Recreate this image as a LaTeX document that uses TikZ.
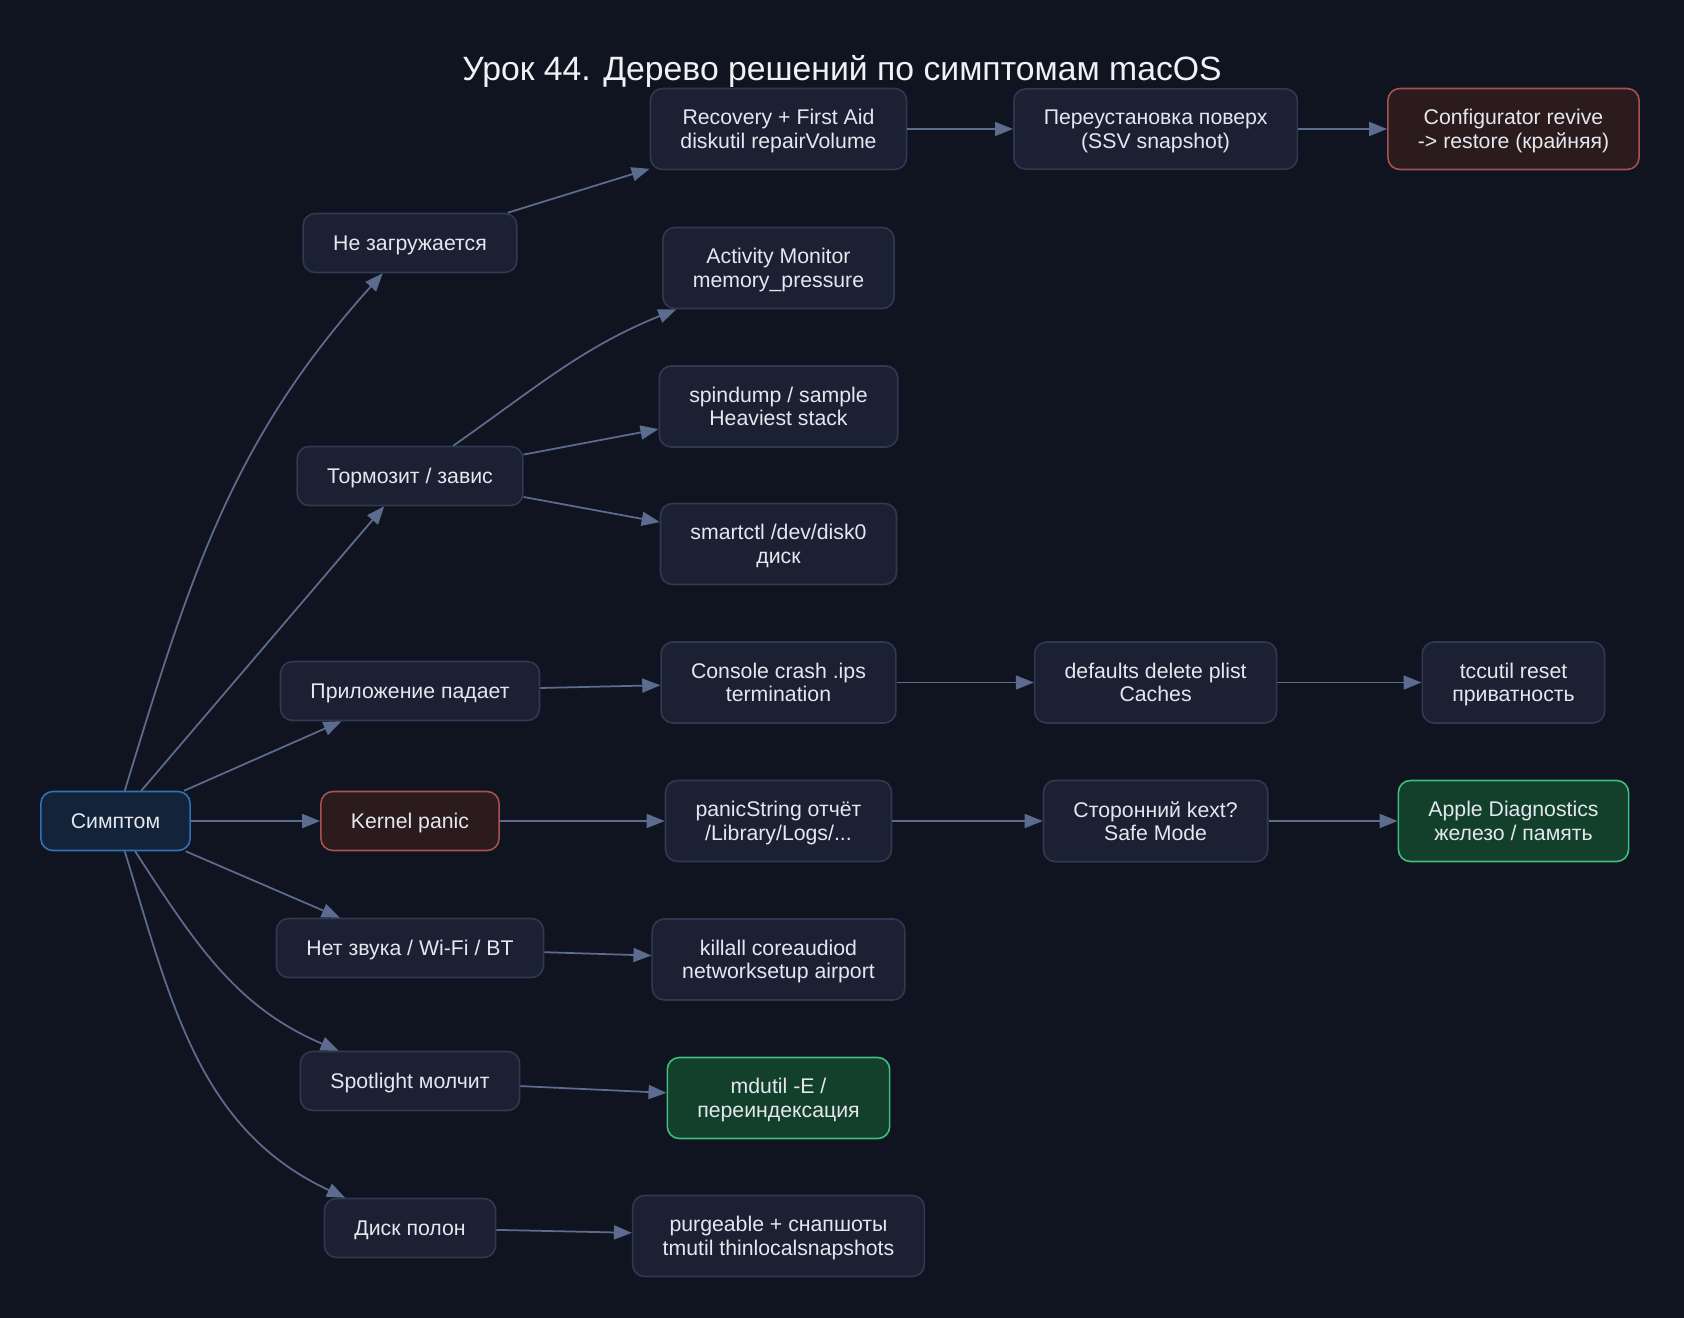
\documentclass[tikz,border=0pt]{standalone}
\usepackage{fontspec}
\setmainfont{Liberation Sans}
\usetikzlibrary{positioning,arrows.meta}

\definecolor{bgdark}{HTML}{0F1420}
\definecolor{boxfill}{HTML}{1B2132}
\definecolor{boxline}{HTML}{2E3A54}
\definecolor{edgecol}{HTML}{5C6C8F}
\definecolor{txtcol}{HTML}{E4E7EF}
\definecolor{rootfill}{HTML}{13243A}
\definecolor{rootline}{HTML}{2F72B5}
\definecolor{warnfill}{HTML}{2B1B1C}
\definecolor{warnline}{HTML}{A8524F}
\definecolor{okfill}{HTML}{13402A}
\definecolor{okline}{HTML}{3DBE7E}

\begin{document}
\begin{tikzpicture}[
  x=0.02cm, y=0.02cm,
  box/.style={draw=boxline, fill=boxfill, line width=0.9pt, rounded corners=0.24cm,
    text=txtcol, align=center, inner xsep=0.6cm, inner ysep=0.421cm,
    text depth=-3.6pt, minimum height=1.18cm, font=\fontsize{12.1}{13.4}\selectfont},
  rootbox/.style={box, draw=rootline, fill=rootfill},
  warnbox/.style={box, draw=warnline, fill=warnfill},
  okbox/.style={box, draw=okline, fill=okfill},
  edge/.style={-{Triangle[length=0.36cm, width=0.28cm]}, edgecol, line width=1pt},
  title/.style={text=txtcol!60!white, font=\fontsize{19.2}{22}\selectfont}
]

  % --- canvas ---
  \fill[bgdark] (0,0) rectangle (1684,-1318);
  \useasboundingbox (0,0) rectangle (1684,-1318);

  \node[title] (ttl) at (842,-71) {Урок 44. Дерево решений по симптомам macOS};

  % --- root and symptoms ---
  \node[rootbox] (root) at (115.5,-821) {Симптом};

  \node[box]     (nz) at (410,-243)  {Не загружается};
  \node[box]     (tz) at (410,-476)  {Тормозит / завис};
  \node[box]     (pp) at (410,-691)  {Приложение падает};
  \node[warnbox] (kp) at (410,-821)  {Kernel panic};
  \node[box]     (nb) at (410,-948)  {Нет звука / Wi-Fi / BT};
  \node[box]     (sp) at (410,-1081) {Spotlight молчит};
  \node[box]     (dp) at (410,-1228) {Диск полон};

  % --- first step ---
  \node[box]   (rec)  at (778.5,-129)   {Recovery + First Aid\\diskutil repairVolume};
  \node[box]   (am)   at (778.5,-268)   {Activity Monitor\\memory\_pressure};
  \node[box]   (spd)  at (778.5,-406.5) {spindump / sample\\Heaviest stack};
  \node[box]   (smc)  at (778.5,-544)   {smartctl /dev/disk0\\диск};
  \node[box]   (cons) at (778.5,-682.5) {Console crash .ips\\termination};
  \node[box]   (pan)  at (778.5,-821)   {panicString отчёт\\/Library/Logs/...};
  \node[box]   (kill) at (778.5,-959.5) {killall coreaudiod\\networksetup airport};
  \node[okbox] (mdu)  at (778.5,-1098)  {mdutil -E /\\переиндексация};
  \node[box]   (purg) at (778.5,-1236)  {purgeable + снапшоты\\tmutil thinlocalsnapshots};

  % --- second and last steps ---
  \node[box] (reins) at (1155.6,-129)   {Переустановка поверх\\(SSV snapshot)};
  \node[box] (defs)  at (1155.6,-682.5) {defaults delete plist\\Caches};
  \node[box] (kext)  at (1155.6,-821)   {Сторонний kext?\\Safe Mode};

  \node[warnbox] (revive) at (1513.5,-129)   {Configurator revive\\-> restore (крайняя)};
  \node[box]     (tcc)    at (1513.5,-682.5) {tccutil reset\\приватность};
  \node[okbox]   (diag)   at (1513.5,-821)   {Apple Diagnostics\\железо / память};

  % --- edges ---
  \draw[edge] (root) to[out=73, in=-132] (nz);
  \foreach \t in {tz, pp, kp, nb}
    \draw[edge] (root) -- (\t);
  \draw[edge] (root) to[out=-57, in=157] (sp);
  \draw[edge] (root) to[out=-73, in=155] (dp);

  \draw[edge] (nz) -- (rec);
  \draw[edge] (tz) to[out=35, in=-158] (am);
  \foreach \a/\b in {tz/spd, tz/smc, pp/cons, kp/pan, nb/kill, sp/mdu, dp/purg,
                     rec/reins, reins/revive, cons/defs, defs/tcc, pan/kext, kext/diag}
    \draw[edge] (\a) -- (\b);

\end{tikzpicture}
\end{document}
